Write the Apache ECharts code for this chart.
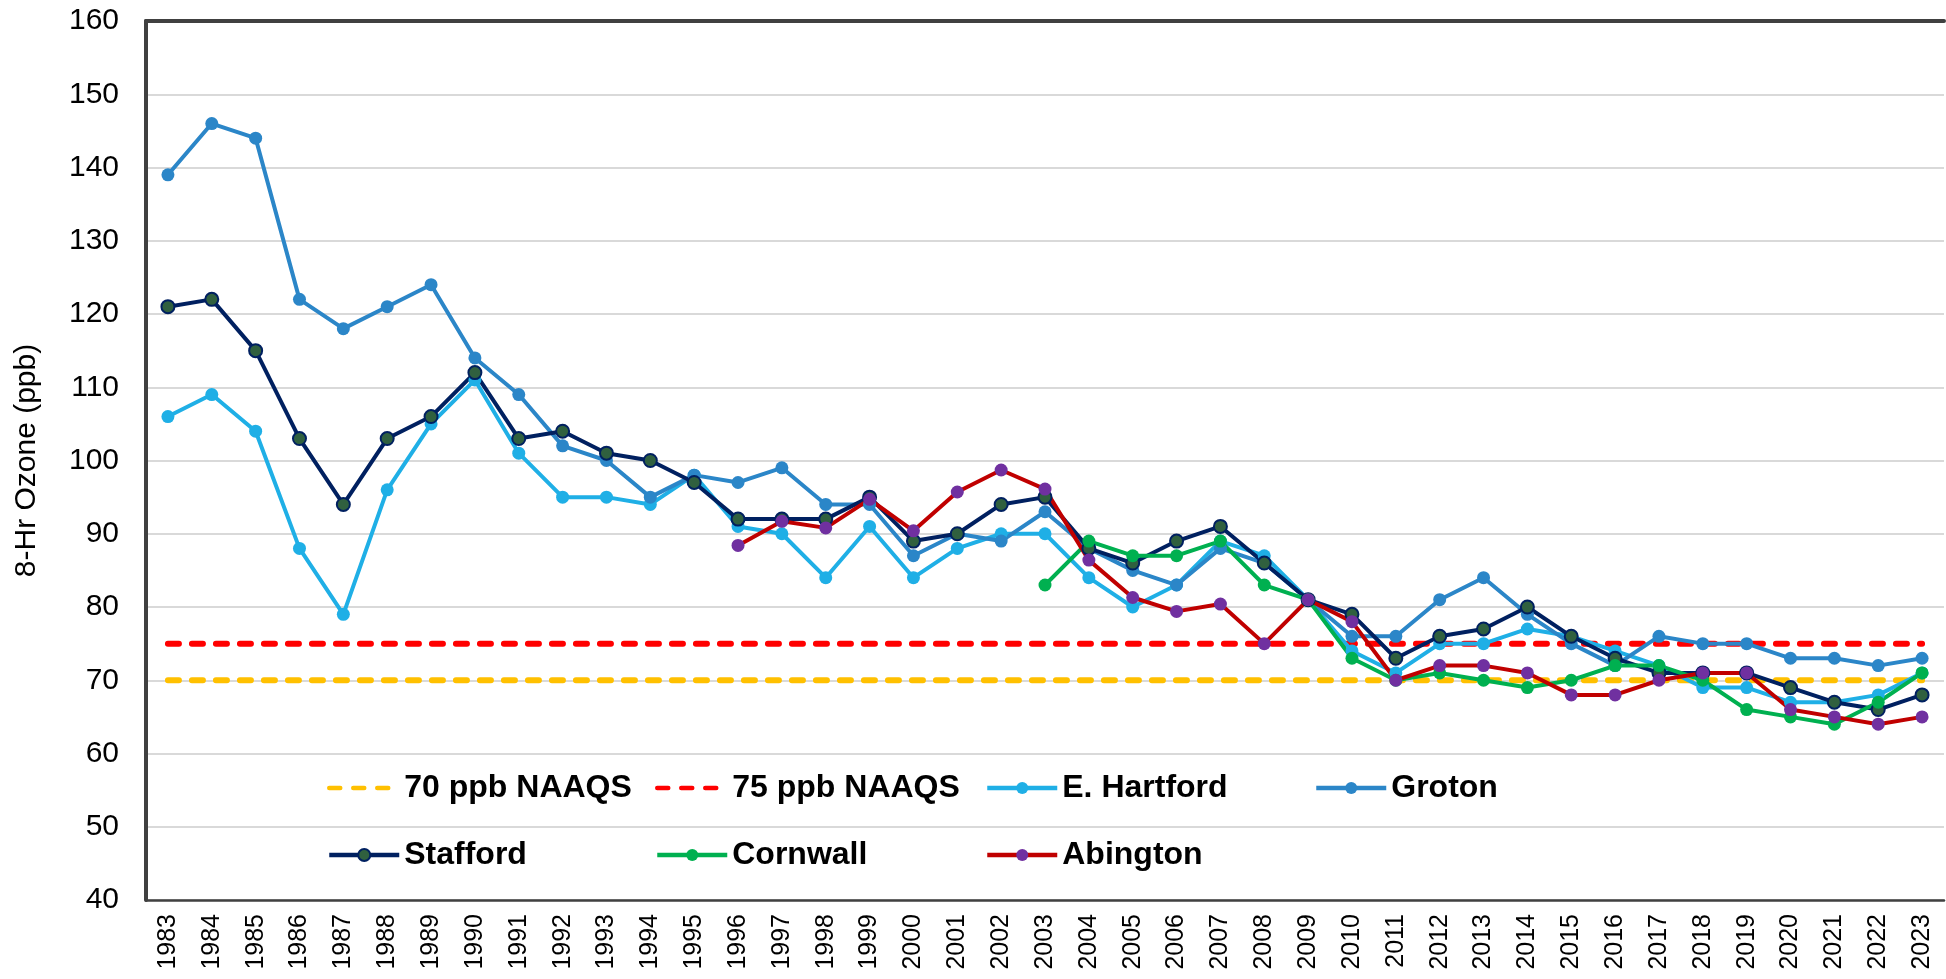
<!DOCTYPE html>
<html lang="en">
<head>
<meta charset="UTF-8">
<title>8-Hr Ozone design values</title>
<script src="https://cdn.jsdelivr.net/npm/echarts@6/dist/echarts.min.js"></script>
<style>
  html, body { margin: 0; padding: 0; background: #fff; }
  #chart { width: 1946px; height: 979px; }
</style>
</head>
<body>
<div id="chart"></div>
<script>
  var years = ['1983', '1984', '1985', '1986', '1987', '1988', '1989', '1990', '1991', '1992',
    '1993', '1994', '1995', '1996', '1997', '1998', '1999', '2000', '2001', '2002',
    '2003', '2004', '2005', '2006', '2007', '2008', '2009', '2010', '2011', '2012',
    '2013', '2014', '2015', '2016', '2017', '2018', '2019', '2020', '2021', '2022', '2023'];

  // NAAQS thresholds, drawn from first to last year
  var naaqs70 = [['1983', 70], ['2023', 70]];
  var naaqs75 = [['1983', 75], ['2023', 75]];

  var eHartford = [106, 109, 104, 88, 79, 96, 105, 111, 101, 95,
    95, 94, 98, 91, 90, 84, 91, 84, 88, 90,
    90, 84, 80, 83, 89, 87, 81, 74, 71, 75,
    75, 77, 76, 74, 72, 69, 69, 67, 67, 68, 71];

  var groton = [139, 146, 144, 122, 118, 121, 124, 114, 109, 102,
    100, 95, 98, 97, 99, 94, 94, 87, 90, 89,
    93, 88, 85, 83, 88, 86, 81, 76, 76, 81,
    84, 79, 75, 72, 76, 75, 75, 73, 73, 72, 73];

  var stafford = [121, 122, 115, 103, 94, 103, 106, 112, 103, 104,
    101, 100, 97, 92, 92, 92, 95, 89, 90, 94,
    95, 88, 86, 89, 91, 86, 81, 79, 73, 76,
    77, 80, 76, 73, 71, 71, 71, 69, 67, 66, 68];

  var cornwall = [null, null, null, null, null, null, null, null, null, null,
    null, null, null, null, null, null, null, null, null, null,
    83, 89, 87, 87, 89, 83, 81, 73, 70, 71,
    70, 69, 70, 72, 72, 70, 66, 65, 64, 67, 71];

  var abington = [null, null, null, null, null, null, null, null, null, null,
    null, null, null, 88.4, 91.7, 90.8, 94.7, 90.4, 95.7, 98.7,
    96.1, 86.4, 81.3, 79.4, 80.4, 75, 81, 78, 70, 72,
    72, 71, 68, 68, 70, 71, 71, 66, 65, 64, 65];

  var FONT = 'Liberation Sans, Arial, sans-serif';

  var myChart = echarts.init(document.getElementById('chart'));

  function dashed(name, color, data) {
    return {
      name: name,
      type: 'line',
      data: data,
      symbol: 'none',
      lineStyle: { color: color, width: 6, type: [11, 13], cap: 'round' },
      itemStyle: { color: color },
      silent: true
    };
  }

  function site(name, lineColor, dotColor, data, border) {
    return {
      name: name,
      type: 'line',
      data: data,
      symbol: 'circle',
      symbolSize: 13,
      lineStyle: { color: lineColor, width: 4 },
      itemStyle: {
        color: dotColor,
        borderColor: border ? lineColor : dotColor,
        borderWidth: border ? 2 : 0
      }
    };
  }

  // legend laid out as a 4-column grid like the original
  var legendSlots = [
    ['70 ppb NAAQS', 322, 767, true], ['75 ppb NAAQS', 650, 767, true],
    ['E. Hartford', 980, 767], ['Groton', 1309, 767],
    ['Stafford', 322, 834], ['Cornwall', 650, 834], ['Abington', 980, 834]
  ];
  var legends = legendSlots.map(function (s) {
    return {
      data: [s[0]],
      left: s[1],
      top: s[2],
      itemWidth: 70,
      itemHeight: 15,
      selectedMode: false,
      lineStyle: { width: 4.5 },
      itemStyle: s[3] ? { opacity: 0 } : {},
      textStyle: { fontFamily: FONT, fontSize: 32, fontWeight: 'bold', color: '#000' }
    };
  });

  myChart.setOption({
    animation: false,
    legend: legends,
    grid: { left: 146, top: 21, right: 2, bottom: 79 },
    xAxis: [
      {
        type: 'category',
        data: years,
        boundaryGap: true,
        axisLine: { lineStyle: { color: '#404040', width: 2.5 } },
        axisTick: { show: false },
        axisLabel: {
          interval: 0, rotate: 90, margin: 14,
          fontFamily: FONT, fontSize: 25, color: '#000'
        }
      },
      {
        // top frame line
        type: 'category',
        data: years,
        position: 'top',
        axisLine: { lineStyle: { color: '#404040', width: 4 } },
        axisTick: { show: false },
        axisLabel: { show: false }
      }
    ],
    yAxis: {
      type: 'value',
      min: 40, max: 160, interval: 10,
      name: '8-Hr Ozone (ppb)',
      nameLocation: 'middle',
      nameRotate: 90,
      nameGap: 104,
      nameTextStyle: { fontFamily: FONT, fontSize: 30, color: '#000' },
      axisLine: { show: true, lineStyle: { color: '#404040', width: 4 } },
      axisTick: { show: false },
      axisLabel: { margin: 27, fontFamily: FONT, fontSize: 30, color: '#000' },
      splitLine: { showMaxLine: false, lineStyle: { color: '#D9D9D9', width: 2 } }
    },
    series: [
      dashed('70 ppb NAAQS', '#FFC000', naaqs70),
      dashed('75 ppb NAAQS', '#FF0000', naaqs75),
      site('E. Hartford', '#1FAFE6', '#1FAFE6', eHartford),
      site('Groton', '#2B86C8', '#2B86C8', groton),
      site('Stafford', '#002060', '#30603F', stafford, true),
      site('Cornwall', '#00B050', '#00B050', cornwall),
      site('Abington', '#C00000', '#7030A0', abington)
    ]
  });
</script>
</body>
</html>
